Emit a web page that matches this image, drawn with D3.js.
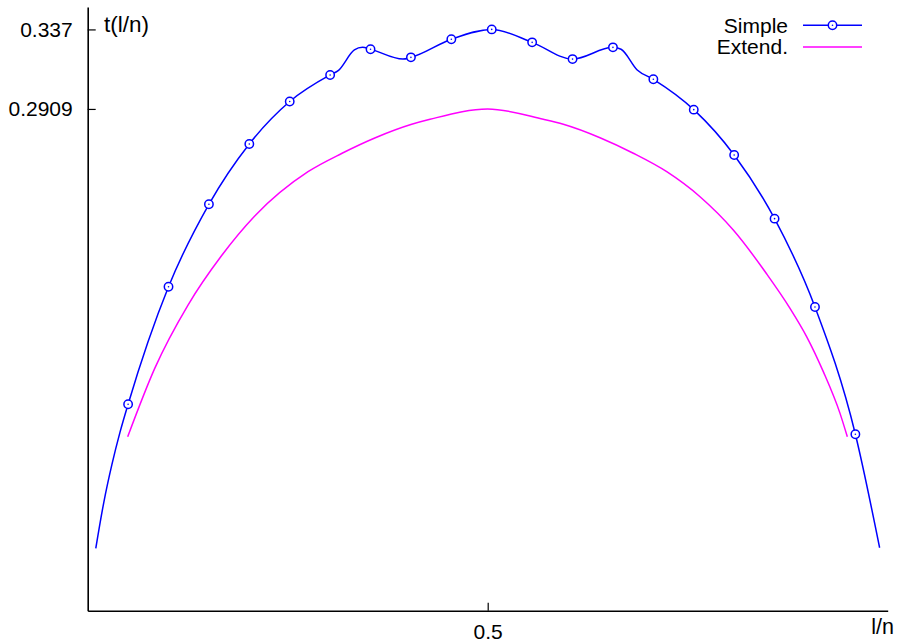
<!DOCTYPE html>
<html>
<head>
<meta charset="utf-8">
<script src="https://cdn.jsdelivr.net/npm/d3@7"></script>
<style>
  html, body { margin: 0; padding: 0; background: #fff; }
  svg { display: block; font-family: "Liberation Sans", Arial, Helvetica, sans-serif; }
</style>
</head>
<body>
<svg id="chart" width="897" height="643"></svg>
<script>
// ---- data ----
const n = 99;
const simpleL = [1, 2, 3, 4, 5, 10, 15, 20, 25, 30, 31, 33, 34, 35, 39, 40, 45, 50, 55, 60, 65, 66, 68, 70, 75, 80, 85, 90, 95, 98];
const simpleT = [0.0362, 0.0630, 0.0848, 0.1035, 0.1197, 0.1878, 0.2356, 0.2706, 0.2952, 0.3106, 0.3131, 0.3251, 0.3266, 0.3255, 0.3198, 0.3208, 0.3313, 0.337, 0.3295, 0.3198, 0.3266, 0.3255, 0.3135, 0.3081, 0.2905, 0.2642, 0.2273, 0.1761, 0.1023, 0.0365];
const markerL = [5, 10, 15, 20, 25, 30, 35, 40, 45, 50, 55, 60, 65, 70, 75, 80, 85, 90, 95];

const extendX = [0.05, 0.0838, 0.1254, 0.167, 0.2088, 0.2754, 0.318, 0.3596, 0.405, 0.4279, 0.5, 0.5695, 0.5945, 0.6404, 0.682, 0.7238, 0.7654, 0.807, 0.8488, 0.8779, 0.8988, 0.9195, 0.9404, 0.9495];
const extendT = [0.1009, 0.1405, 0.1772, 0.2056, 0.2288, 0.2545, 0.2652, 0.2742, 0.2820, 0.2849, 0.2909, 0.2849, 0.2820, 0.2742, 0.2652, 0.2545, 0.2400, 0.2207, 0.1952, 0.1753, 0.1588, 0.1386, 0.1144, 0.1009];

const yTickValues = [0.337, 0.2909];
const yTickLabels = ["0.337", "0.2909"];
const xTickValues = [0.5];
const xTickLabels = ["0.5"];
const seriesNames = ["Simple", "Extend."];
const seriesColors = ["#0000ff", "#ff00ff"];

// ---- chart ----
const svg = d3.select("#chart");
const x = d3.scaleLinear().domain([0, 1]).range([87.7, 887.7]);
const y = d3.scaleLinear().domain([0, 0.35]).range([610.7, 7]);

const simple = simpleL.map((l, i) => ({x: l / n, y: simpleT[i], l}));
const extend = extendX.map((v, i) => ({x: v, y: extendT[i]}));

const line = d3.line().x(d => x(d.x)).y(d => y(d.y)).curve(d3.curveMonotoneX);

svg.append("path").datum(extend)
  .attr("d", line).attr("fill", "none")
  .attr("stroke", seriesColors[1]).attr("stroke-width", 1.5);

svg.append("path").datum(simple)
  .attr("d", line).attr("fill", "none")
  .attr("stroke", seriesColors[0]).attr("stroke-width", 1.5);

const marks = simple.filter(d => markerL.includes(d.l));
const mg = svg.append("g");
mg.selectAll("circle.m").data(marks).join("circle").attr("class", "m")
  .attr("cx", d => x(d.x)).attr("cy", d => y(d.y)).attr("r", 4.2)
  .attr("fill", "#fff").attr("stroke", seriesColors[0]).attr("stroke-width", 1.5);
mg.selectAll("circle.d").data(marks).join("circle").attr("class", "d")
  .attr("cx", d => x(d.x)).attr("cy", d => y(d.y)).attr("r", 0.8)
  .attr("fill", seriesColors[0]);

// axes
const yAxis = d3.axisLeft(y).tickValues(yTickValues)
  .tickFormat((d, i) => yTickLabels[i]).tickSizeInner(-8).tickSizeOuter(0).tickPadding(15);
const gy = svg.append("g").attr("transform", `translate(${x(0)},0)`).call(yAxis);
const xAxis = d3.axisBottom(x).tickValues(xTickValues)
  .tickFormat((d, i) => xTickLabels[i]).tickSizeInner(-8).tickSizeOuter(0).tickPadding(13);
const gx = svg.append("g").attr("transform", `translate(0,${y(0)})`).call(xAxis);

[gx, gy].forEach(g => {
  g.attr("font-family", null).attr("font-size", null);
  g.selectAll("text").attr("font-size", 21).attr("fill", "#000")
    .style("font-family", '"Liberation Sans", Arial, sans-serif');
  g.select(".domain").attr("stroke", "#000").attr("stroke-width", 1.6);
  g.selectAll(".tick line").attr("stroke", "#000").attr("stroke-width", 1.2);
});

svg.append("text").attr("x", 104).attr("y", 32).attr("font-size", 22.5).text("t(l/n)");
svg.append("text").attr("x", 894).attr("y", 634).attr("font-size", 21.5)
  .attr("text-anchor", "end").text("l/n");

// legend
const legY = [25.3, 47];
seriesNames.forEach((name, i) => {
  svg.append("text").attr("x", 788).attr("y", legY[i]).attr("dy", "0.35em")
    .attr("font-size", 21).attr("text-anchor", "end").text(name);
  svg.append("line").attr("x1", 803).attr("x2", 862).attr("y1", legY[i]).attr("y2", legY[i])
    .attr("stroke", seriesColors[i]).attr("stroke-width", 1.5);
});
svg.append("circle").attr("cx", 832.5).attr("cy", legY[0]).attr("r", 4.2)
  .attr("fill", "#fff").attr("stroke", seriesColors[0]).attr("stroke-width", 1.5);
svg.append("circle").attr("cx", 832.5).attr("cy", legY[0]).attr("r", 0.8)
  .attr("fill", seriesColors[0]);
</script>
</body>
</html>
